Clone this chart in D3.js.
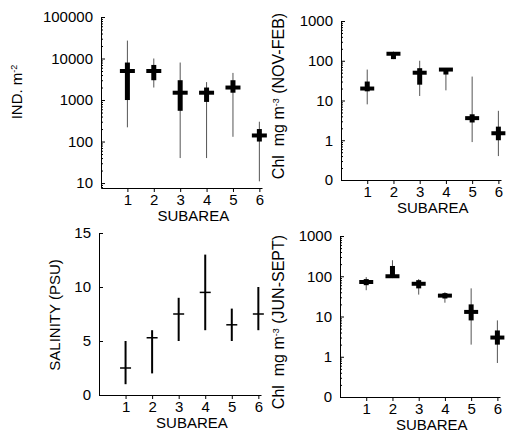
<!DOCTYPE html>
<html>
<head>
<meta charset="utf-8">
<script src="https://cdn.jsdelivr.net/npm/d3@7"></script>
<style>
  body { margin: 0; background: #fff; }
  text { font-family: "Liberation Sans", Arial, sans-serif; fill: #000; }
</style>
</head>
<body>
<svg id="chart" width="513" height="439"></svg>
<script>
const subareas = [1, 2, 3, 4, 5, 6]

// zooplankton abundance, ind. m-2
const indMid = [5000, 5000, 1500, 1500, 2000, 140]
const indMin = [220, 2000, 40, 40, 130, 11]
const indMax = [27000, 10000, 8000, 2700, 4500, 300]
const indQlo = [1000, 3000, 550, 900, 1500, 100]
const indQhi = [8000, 7000, 3000, 2000, 3000, 200]

// chlorophyll, nov-feb
const chlWMid = [20, 150, 50, 60, 3.6, 1.5]
const chlWMin = [8, 110, 13, 18, 0.9, 0.4]
const chlWMax = [60, 170, 100, 60, 40, 5.5]
const chlWQlo = [17, 110, 25, 45, 2.8, 1.0]
const chlWQhi = [30, 165, 65, 65, 4.5, 2.2]

// salinity
const salMid = [2.5, 5.3, 7.5, 9.5, 6.5, 7.5]
const salMin = [1, 2, 5, 6, 5, 6]
const salMax = [5, 6, 9, 13, 8, 10]

// chlorophyll, jun-sept
const chlSMid = [72, 100, 65, 33, 13, 3]
const chlSMin = [45, 90, 35, 22, 2, 0.7]
const chlSMax = [95, 250, 85, 40, 50, 8]
const chlSQlo = [60, 95, 50, 28, 8, 2]
const chlSQhi = [85, 180, 80, 38, 20, 4.5]

const logTicks = [0.1, 1, 10, 100, 1000, 10000, 100000]
const logLabels = ["0", "1", "10", "100", "1000", "10000", "100000"]
const salTicks = [0, 5, 10, 15]

const svg = d3.select("#chart")

function minorTicks(domain) {
  const out = []
  for (let p = -1; p < 5; p++) {
    for (let m = 2; m < 10; m++) {
      const v = m * Math.pow(10, p)
      if (v > domain[0] && v < domain[1]) out.push(v)
    }
  }
  return out
}

function drawPanel(cfg) {
  const g = svg.append("g")
  const x = d3.scaleLinear().domain([0, 6.1]).range(cfg.xRange)
  const y = cfg.log
    ? d3.scaleLog().domain(cfg.yDomain).range(cfg.yRange)
    : d3.scaleLinear().domain(cfg.yDomain).range(cfg.yRange)

  const ticks = cfg.ticks.filter(t => t >= cfg.yDomain[0] && t <= cfg.yDomain[1])

  // y axis
  const yAxis = g.append("g")
    .attr("transform", `translate(${cfg.xRange[0]},0)`)
    .call(d3.axisLeft(y)
      .tickValues(ticks)
      .tickFormat(cfg.fmt)
      .tickSizeInner(-4)
      .tickSizeOuter(0)
      .tickPadding(8))
  yAxis.selectAll("text").style("font-size", "15px").style("font-family", "Liberation Sans, Arial, sans-serif")

  if (cfg.log) {
    g.append("g")
      .attr("transform", `translate(${cfg.xRange[0]},0)`)
      .call(d3.axisLeft(y)
        .tickValues(minorTicks(cfg.yDomain))
        .tickFormat("")
        .tickSizeInner(-2)
        .tickSizeOuter(0))
      .select(".domain").remove()
  }

  // x axis
  const xAxis = g.append("g")
    .attr("transform", `translate(0,${cfg.yRange[0]})`)
    .call(d3.axisBottom(x)
      .tickValues(subareas)
      .tickFormat(d3.format("d"))
      .tickSizeInner(4)
      .tickSizeOuter(0)
      .tickPadding(2))
  xAxis.selectAll("text").style("font-size", "15px").style("font-family", "Liberation Sans, Arial, sans-serif")

  g.append("text")
    .attr("x", (x(1) + x(6)) / 2)
    .attr("y", cfg.yRange[0] + 33)
    .attr("text-anchor", "middle")
    .style("font-size", "15px")
    .text("SUBAREA")

  // y label
  const lab = g.append("text")
    .attr("transform", `translate(${cfg.labelX},${cfg.labelY}) rotate(-90)`)
    .attr("text-anchor", "middle")
    .style("font-size", cfg.labelSize || "15px")
    .style("white-space", "pre")
  cfg.label.forEach(part => {
    const t = lab.append("tspan").text(part.t)
    if (part.sup) t.attr("baseline-shift", "super").style("font-size", "9px")
  })

  const data = subareas.map((s, i) => ({
    s: s, mid: cfg.mid[i], lo: cfg.min[i], hi: cfg.max[i],
    q1: cfg.qlo ? cfg.qlo[i] : null, q3: cfg.qhi ? cfg.qhi[i] : null
  }))

  // range lines
  g.selectAll(".range").data(data).enter().append("line")
    .attr("x1", d => x(d.s)).attr("x2", d => x(d.s))
    .attr("y1", d => y(d.lo)).attr("y2", d => y(d.hi))
    .attr("stroke", cfg.qlo ? "#555" : "#000")
    .attr("stroke-width", cfg.qlo ? 1 : 2)

  if (cfg.qlo) {
    g.selectAll(".box").data(data).enter().append("rect")
      .attr("x", d => x(d.s) - 2.5)
      .attr("width", 5)
      .attr("y", d => y(d.q3))
      .attr("height", d => y(d.q1) - y(d.q3))
      .attr("fill", "#000")
  }

  // mean bar
  g.selectAll(".mid").data(data).enter().append("line")
    .attr("x1", d => x(d.s) - cfg.barW / 2).attr("x2", d => x(d.s) + cfg.barW / 2)
    .attr("y1", d => y(d.mid)).attr("y2", d => y(d.mid))
    .attr("stroke", "#000")
    .attr("stroke-width", cfg.barH)
}

drawPanel({
  log: true, xRange: [101, 262], yDomain: [7.6, 100000], yRange: [188, 17],
  ticks: logTicks, fmt: d => logLabels[logTicks.indexOf(d)],
  mid: indMid, min: indMin, max: indMax, qlo: indQlo, qhi: indQhi,
  barW: 15, barH: 4,
  labelX: 22, labelY: 92,
  label: [{ t: "IND. m" }, { t: "-2", sup: true }]
})

drawPanel({
  log: true, xRange: [341, 501], yDomain: [0.1, 1000], yRange: [180, 21],
  ticks: logTicks, fmt: d => logLabels[logTicks.indexOf(d)],
  mid: chlWMid, min: chlWMin, max: chlWMax, qlo: chlWQlo, qhi: chlWQhi,
  barW: 14, barH: 4,
  labelX: 284, labelY: 96, labelSize: "16px",
  label: [{ t: "Chl  mg m" }, { t: "-3", sup: true }, { t: " (NOV-FEB)" }]
})

drawPanel({
  log: false, xRange: [99, 261], yDomain: [0, 15], yRange: [395, 233],
  ticks: salTicks, fmt: d3.format("d"),
  mid: salMid, min: salMin, max: salMax,
  barW: 11, barH: 1.5,
  labelX: 60, labelY: 315,
  label: [{ t: "SALINITY (PSU)" }]
})

drawPanel({
  log: true, xRange: [340, 500], yDomain: [0.1, 1000], yRange: [397, 236],
  ticks: logTicks, fmt: d => logLabels[logTicks.indexOf(d)],
  mid: chlSMid, min: chlSMin, max: chlSMax, qlo: chlSQlo, qhi: chlSQhi,
  barW: 14, barH: 4,
  labelX: 284, labelY: 322, labelSize: "16px",
  label: [{ t: "Chl  mg m" }, { t: "-3", sup: true }, { t: " (JUN-SEPT)" }]
})
</script>
</body>
</html>
